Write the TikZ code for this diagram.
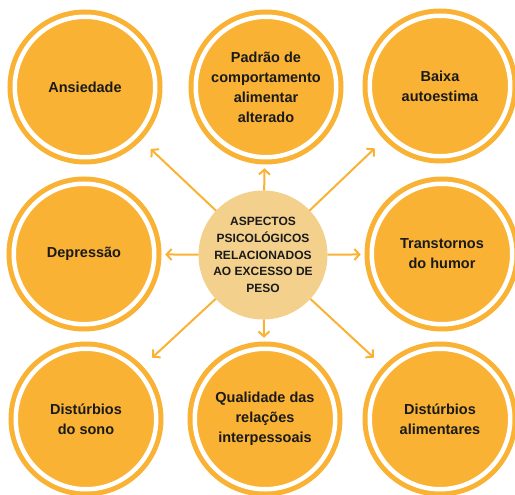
\documentclass[tikz,border=0pt]{standalone}
\usepackage{fontspec}
\setmainfont{Liberation Sans}
\usetikzlibrary{arrows.meta}

\begin{document}
\begin{tikzpicture}[x=1pt, y=-1pt,
    topic/.style={circle, fill=fillOrange, draw=fillOrange, double=white, double distance=4.5pt,
        line width=5pt, minimum size=140.5pt, inner sep=0pt, outer sep=11pt, align=center,
        text=textColour, font=\bfseries\fontsize{14.5}{20}\selectfont},
    hub/.style={circle, fill=hubColour, minimum size=129pt, inner sep=0pt, outer sep=0pt,
        align=center, text=textColour, font=\bfseries\fontsize{12}{16.7}\selectfont},
    link/.style={draw=fillOrange, line width=2pt, -{Straight Barb[length=5pt,width=11pt]}},
    far/.style={shorten >=9pt}]
    \definecolor{fillOrange}{HTML}{F9B234}
    \definecolor{hubColour}{HTML}{F3D18D}
    \definecolor{textColour}{HTML}{1A1A1A}

    \useasboundingbox (0,0) rectangle (515,495);

    % Centre
    \node[hub] (peso) at (263,255) {ASPECTOS\\PSICOLÓGICOS\\RELACIONADOS\\AO EXCESSO DE\\PESO};

    % Top row
    \node[topic] (ansiedade) at (85,87) {Ansiedade};
    \node[topic] (padrao) at (266,87) {Padrão de\\comportamento\\alimentar\\alterado};
    \node[topic] (baixa) at (440,86) {Baixa\\autoestima};

    % Middle row
    \node[topic] (depressao) at (84,254) {Depressão};
    \node[topic] (humor) at (442,254) {Transtornos\\do humor};

    % Bottom row
    \node[topic] (sono) at (86,419) {Distúrbios\\do sono};
    \node[topic] (relacoes) at (265,419) {Qualidade das\\relações\\interpessoais};
    \node[topic] (alimentares) at (440,419) {Distúrbios\\alimentares};

    % Draw arrows
    \foreach \t in {padrao,depressao,humor,relacoes}
        \draw[link] (peso) -- (\t);
    \foreach \t in {ansiedade,baixa,sono,alimentares}
        \draw[link,far] (peso) -- (\t);

\end{tikzpicture}
\end{document}
